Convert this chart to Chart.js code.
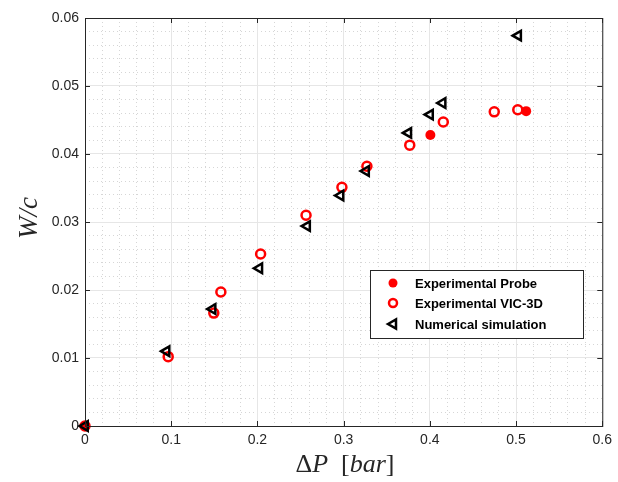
<!DOCTYPE html>
<html>
<head>
<meta charset="utf-8">
<script src="https://cdn.jsdelivr.net/npm/chart.js@4.4.1/dist/chart.umd.min.js"></script>
<style>
  body { margin: 0; background: #fff; }
  #wrap { width: 618px; height: 482px; }
</style>
</head>
<body>
<div id="wrap"><canvas id="chart" width="618" height="482"></canvas></div>
<script>
// values
const probeX = [0, 0.4006, 0.5117];
const probeY = [0, 0.0428, 0.0463];

const vicX = [0, 0.0965, 0.1494, 0.1576, 0.2037, 0.2564, 0.2980, 0.3270, 0.3767, 0.4156, 0.4747, 0.5020];
const vicY = [0, 0.0102, 0.0166, 0.0197, 0.0253, 0.0310, 0.0351, 0.0382, 0.0413, 0.0447, 0.0462, 0.0465];

const simX = [0, 0.0946, 0.1480, 0.2022, 0.2576, 0.2964, 0.3260, 0.3750, 0.4002, 0.4148, 0.5024];
const simY = [0, 0.0110, 0.0172, 0.0232, 0.0294, 0.0339, 0.0375, 0.0431, 0.0458, 0.0475, 0.0574];

const xTicks = [0, 0.1, 0.2, 0.3, 0.4, 0.5, 0.6];
const yTicks = [0, 0.01, 0.02, 0.03, 0.04, 0.05, 0.06];
const xMinorStep = 0.02;
const yMinorStep = 0.002;

const legendLabels = ['Experimental Probe', 'Experimental VIC-3D', 'Numerical simulation'];

const RED = '#ff0000';
const AXIS = '#262626';

function toPoints(xs, ys) {
    return xs.map((x, i) => ({ x: x, y: ys[i] }));
}

function fixedTicks(list) {
    return function (scale) {
        scale.ticks = list.map(v => ({ value: v }));
    };
}

function minorTicks(min, max, step) {
    return function (scale) {
        const out = [];
        const n = Math.round((max - min) / step);
        for (let i = 0; i <= n; i++) out.push({ value: min + i * step });
        scale.ticks = out;
    };
}

// box, inner tick marks, axis titles and legend
const decorPlugin = {
    id: 'decor',
    afterDraw(chart) {
        const ctx = chart.ctx;
        const a = chart.chartArea;
        const xs = chart.scales.x, ys = chart.scales.y;
        ctx.save();
        ctx.strokeStyle = AXIS;
        ctx.lineWidth = 1;
        ctx.strokeRect(a.left + 0.5, a.top + 0.5, a.right - a.left, a.bottom - a.top);
        ctx.beginPath();
        xTicks.forEach(v => {
            const px = Math.round(xs.getPixelForValue(v)) + 0.5;
            ctx.moveTo(px, a.bottom); ctx.lineTo(px, a.bottom - 5);
            ctx.moveTo(px, a.top); ctx.lineTo(px, a.top + 5);
        });
        yTicks.forEach(v => {
            const py = Math.round(ys.getPixelForValue(v)) + 0.5;
            ctx.moveTo(a.left, py); ctx.lineTo(a.left + 5, py);
            ctx.moveTo(a.right, py); ctx.lineTo(a.right - 5, py);
        });
        ctx.stroke();

        // x title: ΔP [bar]
        ctx.fillStyle = AXIS;
        ctx.textBaseline = 'alphabetic';
        const parts = [
            ['Δ', 'normal'], ['P', 'italic'], ['  [', 'normal'], ['bar', 'italic'], [']', 'normal']
        ];
        let total = 0;
        parts.forEach(p => { ctx.font = p[1] + ' 26px "Liberation Serif"'; total += ctx.measureText(p[0]).width; });
        let cx = 345 - total / 2;
        parts.forEach(p => {
            ctx.font = p[1] + ' 26px "Liberation Serif"';
            ctx.fillText(p[0], cx, 472);
            cx += ctx.measureText(p[0]).width;
        });

        // y title: W/c
        ctx.save();
        ctx.translate(37, 218);
        ctx.rotate(-Math.PI / 2);
        ctx.font = 'italic 27px "Liberation Serif"';
        ctx.textAlign = 'center';
        ctx.fillText('W/c', 0, 0);
        ctx.restore();

        // legend
        const lx = 370, ly = 270, lw = 213, lh = 68;
        ctx.fillStyle = '#fff';
        ctx.fillRect(lx, ly, lw, lh);
        ctx.strokeStyle = AXIS;
        ctx.lineWidth = 1;
        ctx.strokeRect(lx + 0.5, ly + 0.5, lw, lh);
        const rows = [283, 303, 324];
        ctx.font = 'bold 13px "Liberation Sans"';
        ctx.textBaseline = 'middle';
        rows.forEach((ry, i) => {
            const mx = 393;
            ctx.lineWidth = 2.5;
            if (i === 0) {
                ctx.fillStyle = RED;
                ctx.beginPath(); ctx.arc(mx, ry, 4.5, 0, Math.PI * 2); ctx.fill();
            } else if (i === 1) {
                ctx.strokeStyle = RED;
                ctx.beginPath(); ctx.arc(mx, ry, 4, 0, Math.PI * 2); ctx.stroke();
            } else {
                ctx.strokeStyle = '#000';
                ctx.beginPath();
                ctx.moveTo(mx - 5, ry);
                ctx.lineTo(mx + 3, ry - 4.5);
                ctx.lineTo(mx + 3, ry + 4.5);
                ctx.closePath();
                ctx.stroke();
            }
            ctx.fillStyle = '#000';
            ctx.fillText(legendLabels[i], 415, ry + 1);
        });
        ctx.restore();
    }
};

new Chart(document.getElementById('chart'), {
    type: 'scatter',
    data: {
        datasets: [
            {
                label: legendLabels[0],
                data: toPoints(probeX, probeY),
                pointStyle: 'circle',
                pointRadius: 5,
                backgroundColor: RED,
                borderColor: RED,
                borderWidth: 0,
                clip: false,
                order: 3
            },
            {
                label: legendLabels[1],
                data: toPoints(vicX, vicY),
                pointStyle: 'circle',
                pointRadius: 4.5,
                backgroundColor: 'rgba(0,0,0,0)',
                borderColor: RED,
                borderWidth: 2.5,
                clip: false,
                order: 2
            },
            {
                label: legendLabels[2],
                data: toPoints(simX, simY),
                pointStyle: 'triangle',
                rotation: -90,
                pointRadius: 5.5,
                backgroundColor: 'rgba(0,0,0,0)',
                borderColor: '#000',
                borderWidth: 2.5,
                clip: false,
                order: 1
            }
        ]
    },
    options: {
        responsive: false,
        animation: false,
        layout: { padding: { top: 18, right: 11, left: 0, bottom: 0 } },
        plugins: {
            legend: { display: false },
            tooltip: { enabled: false }
        },
        scales: {
            xm: {
                type: 'linear', position: 'bottom', min: 0, max: 0.6,
                afterBuildTicks: minorTicks(0, 0.6, xMinorStep),
                ticks: { display: false },
                grid: { color: '#d6d6d6', lineWidth: 1, drawTicks: false },
                border: { display: false, dash: [1, 3] },
                afterFit(s) { s.height = 0; }
            },
            ym: {
                type: 'linear', position: 'left', min: 0, max: 0.06,
                afterBuildTicks: minorTicks(0, 0.06, yMinorStep),
                ticks: { display: false },
                grid: { color: '#d6d6d6', lineWidth: 1, drawTicks: false },
                border: { display: false, dash: [1, 3] },
                afterFit(s) { s.width = 0; }
            },
            x: {
                type: 'linear', position: 'bottom', min: 0, max: 0.6,
                afterBuildTicks: fixedTicks(xTicks),
                ticks: {
                    color: AXIS, padding: 6,
                    font: { family: '"Liberation Sans"', size: 14 },
                    callback: v => v === 0 ? '0' : v.toFixed(1)
                },
                grid: { color: '#e6e6e6', lineWidth: 1, drawTicks: false },
                border: { display: false },
                afterFit(s) { s.height = 56; }
            },
            y: {
                type: 'linear', position: 'left', min: 0, max: 0.06,
                afterBuildTicks: fixedTicks(yTicks),
                ticks: {
                    color: AXIS, padding: 6,
                    font: { family: '"Liberation Sans"', size: 14 },
                    callback: v => v === 0 ? '0' : v.toFixed(2)
                },
                grid: { color: '#e6e6e6', lineWidth: 1, drawTicks: false },
                border: { display: false },
                afterFit(s) { s.width = 85; }
            }
        }
    },
    plugins: [decorPlugin]
});
</script>
</body>
</html>
